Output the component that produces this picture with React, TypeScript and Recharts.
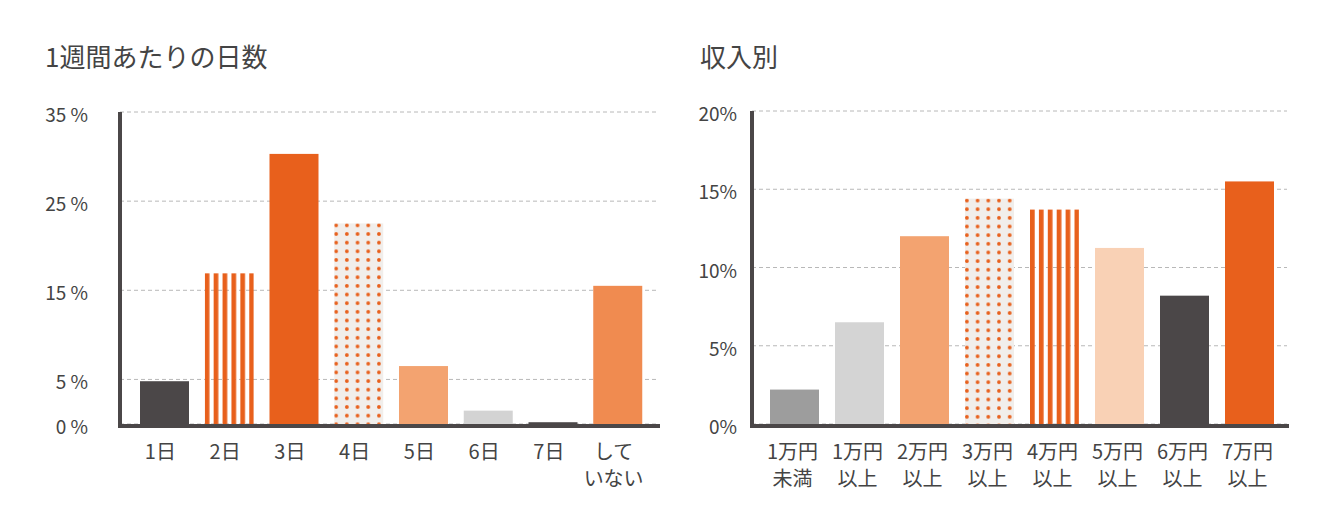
import { BarChart, Bar, XAxis, YAxis, CartesianGrid } from "recharts";

// 1週間あたりの日数
const dayLabels = ["1日", "2日", "3日", "4日", "5日", "6日", "7日", "して\nいない"];
const dayValues = [4.8, 16.9, 30.3, 22.5, 6.5, 1.5, 0.2, 15.5];
const dayTicks = [0, 5, 15, 25, 35];

// 収入別
const incomeLabels = [
  "1万円\n未満",
  "1万円\n以上",
  "2万円\n以上",
  "3万円\n以上",
  "4万円\n以上",
  "5万円\n以上",
  "6万円\n以上",
  "7万円\n以上",
];
const incomeValues = [2.2, 6.5, 12.0, 14.4, 13.7, 11.25, 8.2, 15.5];
const incomeTicks = [0, 5, 10, 15, 20];

const ORANGE = "#e8601c";
const DARK = "#4b4748";
const TEXT = "#444444";

const dayFills = [DARK, "stripes", ORANGE, "dots", "#f3a370", "#d3d3d3", DARK, "#f08b50"];
const incomeFills = ["#9d9d9d", "#d4d4d4", "#f3a370", "dots", "stripes", "#f9d1b5", DARK, ORANGE];

const dayData = dayLabels.map((label, i) => ({ label, value: dayValues[i] }));
const incomeData = incomeLabels.map((label, i) => ({ label, value: incomeValues[i] }));

function renderBar(props: any, labels: string[], fills: string[], prefix: string) {
  const { x, y, width, height, payload } = props;
  const index = props.index ?? labels.indexOf(payload.label);
  const kind = fills[index];
  if (!height || height <= 0) return <g />;
  if (kind === "stripes") {
    const id = `${prefix}-stripes-${index}`;
    return (
      <g>
        <defs>
          <pattern id={id} patternUnits="userSpaceOnUse" x={x} y={y} width={8.9} height={10}>
            <rect x={0} y={0} width={4.7} height={10} fill={ORANGE} />
          </pattern>
        </defs>
        <rect x={x} y={y} width={width} height={height} fill={`url(#${id})`} />
      </g>
    );
  }
  if (kind === "dots") {
    const id = `${prefix}-dots-${index}`;
    return (
      <g>
        <defs>
          <pattern id={id} patternUnits="userSpaceOnUse" x={x} y={y} width={10.7} height={8.65}>
            <circle cx={1.9} cy={1.9} r={1.9} fill={ORANGE} />
          </pattern>
        </defs>
        <rect x={x} y={y} width={width} height={height} fill="#f1eeeb" />
        <rect x={x} y={y} width={width} height={height} fill={`url(#${id})`} />
      </g>
    );
  }
  return <rect x={x} y={y} width={width} height={height} fill={kind} />;
}

const XTick = ({ x, y, payload, shift }: any) => {
  const lines = String(payload.value).split("\n");
  return (
    <g>
      {lines.map((line, i) => (
        <text
          key={i}
          x={x + shift}
          y={y + 35 + i * 27}
          textAnchor="middle"
          fill={TEXT}
          fontSize={20}
        >
          {line}
        </text>
      ))}
    </g>
  );
};

const YTick = ({ x, y, payload, suffix }: any) => (
  <text x={x} y={y} dy={10} textAnchor="end" fill={TEXT} fontSize={19}>
    {`${payload.value}${suffix}`}
  </text>
);

const axisStyle = { stroke: DARK, strokeWidth: 4 };

export default function App() {
  return (
    <div
      style={{
        position: "absolute",
        left: 0,
        top: 0,
        width: 1329,
        height: 529,
        background: "#fff",
        fontFamily: "'Noto Sans CJK JP', sans-serif",
        color: TEXT,
      }}
    >
      <div style={{ position: "absolute", left: 45, top: 43, fontSize: 26, lineHeight: 1 }}>
        1週間あたりの日数
      </div>
      <div style={{ position: "absolute", left: 700, top: 43, fontSize: 26, lineHeight: 1 }}>
        収入別
      </div>

      <div style={{ position: "absolute", left: 0, top: 0 }}>
        <BarChart
          width={680}
          height={529}
          data={dayData}
          margin={{ top: 112, right: 22, bottom: 0, left: 0 }}
        >
          <CartesianGrid vertical={false} stroke="#b8b8b8" strokeDasharray="4 3" />
          <XAxis
            dataKey="label"
            interval={0}
            height={105}
            padding={{ left: 12, right: 8 }}
            tickLine={false}
            tickSize={0}
            tickMargin={0}
            axisLine={{ ...axisStyle, strokeLinecap: "square", transform: "translate(0,2)" } as any}
            tick={(p: any) => <XTick {...p} shift={-4} />}
          />
          <YAxis
            width={120}
            domain={[0, 35]}
            ticks={dayTicks}
            tickLine={false}
            tickSize={0}
            tickMargin={32}
            axisLine={axisStyle}
            tick={(p: any) => <YTick {...p} suffix=" %" />}
          />
          <Bar
            dataKey="value"
            barSize={49}
            isAnimationActive={false}
            shape={(p: any) => renderBar(p, dayLabels, dayFills, "day")}
          />
        </BarChart>
      </div>

      <div style={{ position: "absolute", left: 630, top: 0 }}>
        <BarChart
          width={699}
          height={529}
          data={incomeData}
          margin={{ top: 111, right: 42, bottom: 0, left: 0 }}
        >
          <CartesianGrid vertical={false} stroke="#b8b8b8" strokeDasharray="4 3" />
          <XAxis
            dataKey="label"
            interval={0}
            height={105}
            padding={{ left: 10, right: 5 }}
            tickLine={false}
            tickSize={0}
            tickMargin={0}
            axisLine={{ ...axisStyle, strokeLinecap: "square", transform: "translate(0,2)" } as any}
            tick={(p: any) => <XTick {...p} shift={-2} />}
          />
          <YAxis
            width={122}
            domain={[0, 20]}
            ticks={incomeTicks}
            tickLine={false}
            tickSize={0}
            tickMargin={15}
            axisLine={axisStyle}
            tick={(p: any) => <YTick {...p} suffix="%" />}
          />
          <Bar
            dataKey="value"
            barSize={49}
            isAnimationActive={false}
            shape={(p: any) => renderBar(p, incomeLabels, incomeFills, "inc")}
          />
        </BarChart>
      </div>
    </div>
  );
}
